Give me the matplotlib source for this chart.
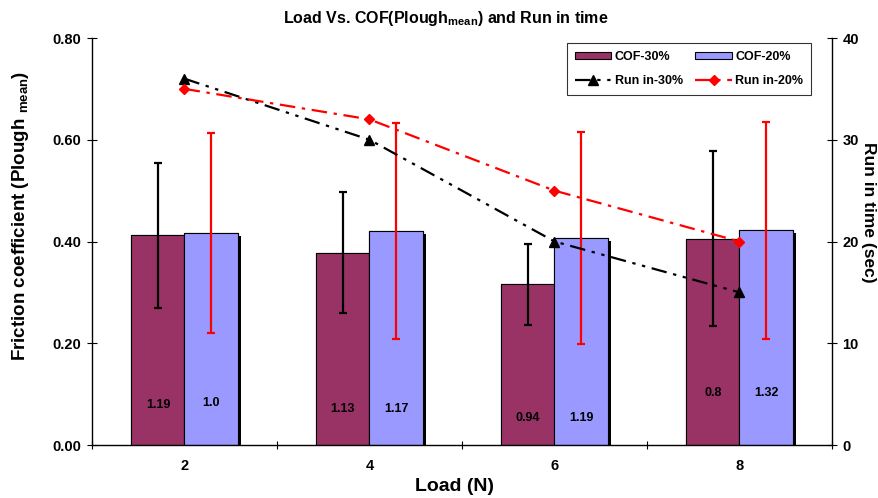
import numpy as np
import matplotlib
matplotlib.use("Agg")
import matplotlib.pyplot as plt
import matplotlib.patheffects as pe
from matplotlib.lines import Line2D
from matplotlib.patches import Patch

plt.rcParams['font.family'] = ['Liberation Sans', 'DejaVu Sans']
plt.rcParams['font.weight'] = 'bold'
plt.rcParams['mathtext.fontset'] = 'custom'
plt.rcParams['mathtext.rm'] = 'Liberation Sans:bold'
plt.rcParams['mathtext.it'] = 'Liberation Sans:bold'
plt.rcParams['mathtext.bf'] = 'Liberation Sans:bold'

# Data
loads = ['2', '4', '6', '8']
cof_30 = [0.412, 0.378, 0.316, 0.405]
cof_30_err = [0.143, 0.119, 0.080, 0.172]
cof_20 = [0.417, 0.420, 0.407, 0.422]
cof_20_err = [0.197, 0.212, 0.208, 0.213]
runin_30 = [36, 30, 20, 15]
runin_20 = [35, 32, 25, 20]
bar_notes_30 = ['1.19', '1.13', '0.94', '0.8']
bar_notes_20 = ['1.0', '1.17', '1.19', '1.32']
note_y_30 = [0.079, 0.071, 0.053, 0.102]
note_y_20 = [0.082, 0.071, 0.053, 0.102]

maroon = '#993366'
lavender = '#9999FF'

fig = plt.figure(figsize=(8.79, 4.98), dpi=100)
ax = fig.add_axes([92/879, 1-445/498, (832-92)/879, (445-38)/498])

x = np.arange(len(loads))
w = 0.287
shadow = [pe.withSimplePatchShadow(offset=(2.2, -2.2), shadow_rgbFace='black', alpha=1.0), pe.Normal()]

b1 = ax.bar(x - w/2, cof_30, w, color=maroon, edgecolor='black', linewidth=0.8, zorder=2)
b2 = ax.bar(x + w/2, cof_20, w, color=lavender, edgecolor='black', linewidth=0.8, zorder=2)
for p in list(b1) + list(b2):
    p.set_path_effects(shadow)

ax.errorbar(x - w/2, cof_30, yerr=cof_30_err, fmt='none', ecolor='black',
            elinewidth=1.6, capsize=3, capthick=1.6, zorder=3)
ax.errorbar(x + w/2, cof_20, yerr=cof_20_err, fmt='none', ecolor='red',
            elinewidth=1.6, capsize=3, capthick=1.6, zorder=3)

for xi, t, yy in zip(x - w/2, bar_notes_30, note_y_30):
    ax.text(xi, yy, t, ha='center', va='center', fontsize=9, fontweight='bold', zorder=4)
for xi, t, yy in zip(x + w/2, bar_notes_20, note_y_20):
    ax.text(xi, yy, t, ha='center', va='center', fontsize=9, fontweight='bold', zorder=4)

ax.set_xlim(-0.5, len(loads) - 0.5)
ax.set_ylim(0, 0.8)
ax.set_yticks(np.arange(0, 0.81, 0.2))
ax.set_yticklabels([f'{v:.2f}' for v in np.arange(0, 0.81, 0.2)], fontsize=10.5, fontweight='bold')
ax.set_xticks(np.arange(-0.5, len(loads), 1.0))
ax.set_xticklabels([])
ax.set_xticks(x, minor=True)
ax.set_xticklabels(loads, minor=True, fontsize=10.5, fontweight='bold')
ax.tick_params(axis='x', which='major', direction='inout', length=6, width=0.8)
ax.tick_params(axis='x', which='minor', length=0, pad=10)
ax.tick_params(axis='y', direction='inout', length=7, width=0.8, pad=4)
ax.spines['top'].set_visible(False)
ax.spines['right'].set_visible(False)
ax.spines['left'].set_linewidth(1.0)
ax.spines['bottom'].set_linewidth(1.0)
ax.set_ylabel('Friction coefficient (Plough $_{mean}$)', fontsize=13.5, fontweight='bold')
ax.yaxis.set_label_coords(-0.083, 0.563)
ax.set_xlabel('Load (N)', fontsize=14, fontweight='bold')
ax.xaxis.set_label_coords(0.49, -0.082)

ax2 = ax.twinx()
ax2.plot(x, runin_30, color='black', lw=1.6, dashes=(7, 3, 1.5, 3, 1.5, 3),
         marker='^', ms=7, mfc='black', mec='black', zorder=5)
ax2.plot(x, runin_20, color='red', lw=1.6, dashes=(7, 3, 1.5, 3),
         marker='D', ms=5.5, mfc='red', mec='red', zorder=5)
ax2.set_ylim(0, 40)
ax2.set_yticks(np.arange(0, 41, 10))
ax2.set_yticklabels([str(v) for v in range(0, 41, 10)], fontsize=10.5, fontweight='bold')
ax2.tick_params(axis='y', direction='inout', length=7, width=0.8, pad=4)
for s in ['top', 'left', 'bottom']:
    ax2.spines[s].set_visible(False)
ax2.spines['right'].set_linewidth(1.0)
ax2.set_ylabel('Run in time (sec)', fontsize=12.5, fontweight='bold', rotation=270, va='center')
ax2.yaxis.set_label_coords(1.05, 0.572)

handles = [
    Patch(facecolor=maroon, edgecolor='black', linewidth=0.8),
    Line2D([], [], color='black', lw=1.6, dashes=(7, 3, 1.5, 3, 1.5, 3), marker='^', ms=7),
    Patch(facecolor=lavender, edgecolor='black', linewidth=0.8),
    Line2D([], [], color='red', lw=1.6, dashes=(7, 3, 1.5, 3), marker='D', ms=5.5),
]
labels = ['COF-30%', 'Run in-30%', 'COF-20%', 'Run in-20%']
leg = ax2.legend(handles, labels, loc='upper right', bbox_to_anchor=(0.9716, 0.9877),
                 borderaxespad=0, ncol=2, prop={'size': 9, 'weight': 'bold'},
                 frameon=True, fancybox=False, handlelength=2.9,
                 handleheight=0.5, columnspacing=1.0, labelspacing=1.0, borderpad=0.6,
                 handletextpad=0.3)
leg.get_frame().set_edgecolor('black')
leg.get_frame().set_linewidth(0.8)
leg.set_zorder(10)

fig.text(0.507, 0.963, 'Load Vs. COF(Plough$_{mean}$) and Run in time', ha='center', va='center',
         fontsize=11.5, fontweight='bold')

fig.savefig('out.png', dpi=100)
